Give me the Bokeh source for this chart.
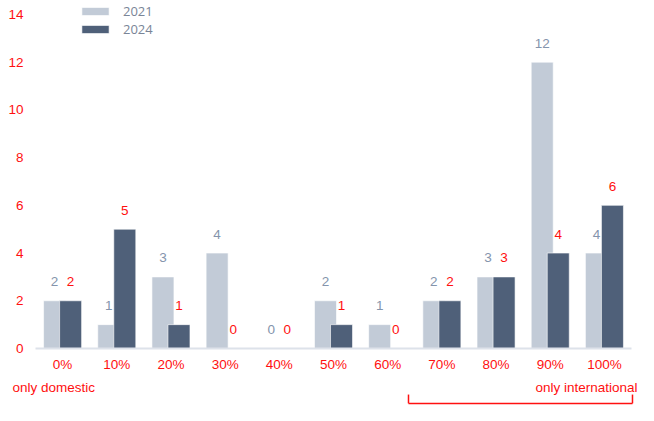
from bokeh.plotting import figure
from bokeh.models import (ColumnDataSource, Range1d, FixedTicker, Legend,
                          LegendItem, Label, Arrow)
from bokeh.transform import dodge
from bokeh.core.properties import value
from bokeh.embed import file_html
from bokeh.resources import INLINE

categories = ["0%", "10%", "20%", "30%", "40%", "50%", "60%", "70%", "80%", "90%", "100%"]
values_2021 = [2, 1, 3, 4, 0, 2, 1, 2, 3, 12, 4]
values_2024 = [2, 5, 1, 0, 0, 1, 0, 2, 3, 4, 6]
y_ticks = [0, 2, 4, 6, 8, 10, 12, 14]
series_names = ["2021", "2024"]

C2021 = "#c2cbd7"
C2024 = "#4f6079"
RED = "#ff1010"
GRAYTXT = "#8494ac"
NUMFONT = "Liberation Sans"
LEGFONT = "Open Sans"
AXFONT = "Liberation Sans"

idx = list(range(len(categories)))
src = ColumnDataSource(dict(
    i=idx,
    v21=values_2021,
    v24=values_2024,
    t21=[str(v) for v in values_2021],
    t24=[str(v) for v in values_2024],
))

p = figure(x_range=Range1d(-1.146, 10.629), y_range=Range1d(-2.389, 14.585),
           width=638, height=405, output_backend="svg", toolbar_location=None,
           min_border_left=0, min_border_right=0, min_border_top=0, min_border_bottom=0)
p.outline_line_color = None
p.xgrid.grid_line_color = None
p.ygrid.grid_line_color = None
p.background_fill_color = "white"

r21 = p.vbar(x=dodge("i", -0.148), top="v21", width=0.406, source=src,
             fill_color=C2021, line_color="white", line_width=0.6)
r24 = p.vbar(x=dodge("i", 0.148), top="v24", width=0.406, source=src,
             fill_color=C2024, line_color="white", line_width=0.6)

p.text(x=dodge("i", -0.148), y="v21", text="t21", source=src,
       text_align="center", text_baseline="middle", y_offset=-19,
       text_color=GRAYTXT, text_font_size="13.5px", text_font=value(NUMFONT))
p.text(x=dodge("i", 0.148), y="v24", text="t24", source=src,
       text_align="center", text_baseline="middle", y_offset=-19,
       text_color=RED, text_font_size="13.5px", text_font=value(NUMFONT))

# axes, drawn inside the frame
xa = p.xaxis[0]
xa.fixed_location = 0
xa.bounds = (-0.5, len(categories) - 0.5)
xa.ticker = FixedTicker(ticks=idx)
xa.major_label_overrides = {i: c for i, c in zip(idx, categories)}
xa.axis_line_color = "#dde2ea"
xa.axis_line_width = 2
xa.major_tick_line_color = None
xa.major_tick_out = 0
xa.major_tick_in = 0
xa.minor_tick_line_color = None
xa.major_label_text_color = RED
xa.major_label_text_font = AXFONT
xa.major_label_text_font_size = "13.5px"
xa.major_label_standoff = 9

ya = p.yaxis[0]
ya.fixed_location = -0.5
ya.ticker = FixedTicker(ticks=y_ticks)
ya.axis_line_color = None
ya.major_tick_line_color = None
ya.major_tick_out = 0
ya.major_tick_in = 0
ya.minor_tick_line_color = None
ya.major_label_text_color = RED
ya.major_label_text_font = AXFONT
ya.major_label_text_font_size = "13.5px"
ya.major_label_standoff = 12

legend = Legend(items=[LegendItem(label=series_names[0], renderers=[r21]),
                       LegendItem(label=series_names[1], renderers=[r24])],
                location=(78, 367), orientation="vertical",
                glyph_width=34, glyph_height=10, label_height=10, spacing=0,
                padding=0, margin=0, label_standoff=11,
                label_text_font=LEGFONT, label_text_font_size="13px",
                label_text_color="#7a8597", label_text_baseline="middle",
                border_line_color=None, background_fill_alpha=0)
p.add_layout(legend)

p.add_layout(Label(x=-0.925, y=-1.63, text="only domestic", text_align="left",
                   text_baseline="middle", text_color=RED, text_font=AXFONT,
                   text_font_size="13.5px"))
p.add_layout(Label(x=10.61, y=-1.63, text="only international", text_align="right",
                   text_baseline="middle", text_color=RED, text_font=AXFONT,
                   text_font_size="13.5px"))

# bracket under 70%..100%
bx0, bx1 = 6.384, 10.518
by_top, by_bot = -1.93, -2.30
for (x0, y0, x1, y1) in [(bx0, by_bot, bx1, by_bot), (bx0, by_top, bx0, by_bot),
                         (bx1, by_top, bx1, by_bot)]:
    p.add_layout(Arrow(end=None, x_start=x0, y_start=y0, x_end=x1, y_end=y1,
                       line_color=RED, line_width=1.5))

open("out.html", "w").write(file_html(p, INLINE))
